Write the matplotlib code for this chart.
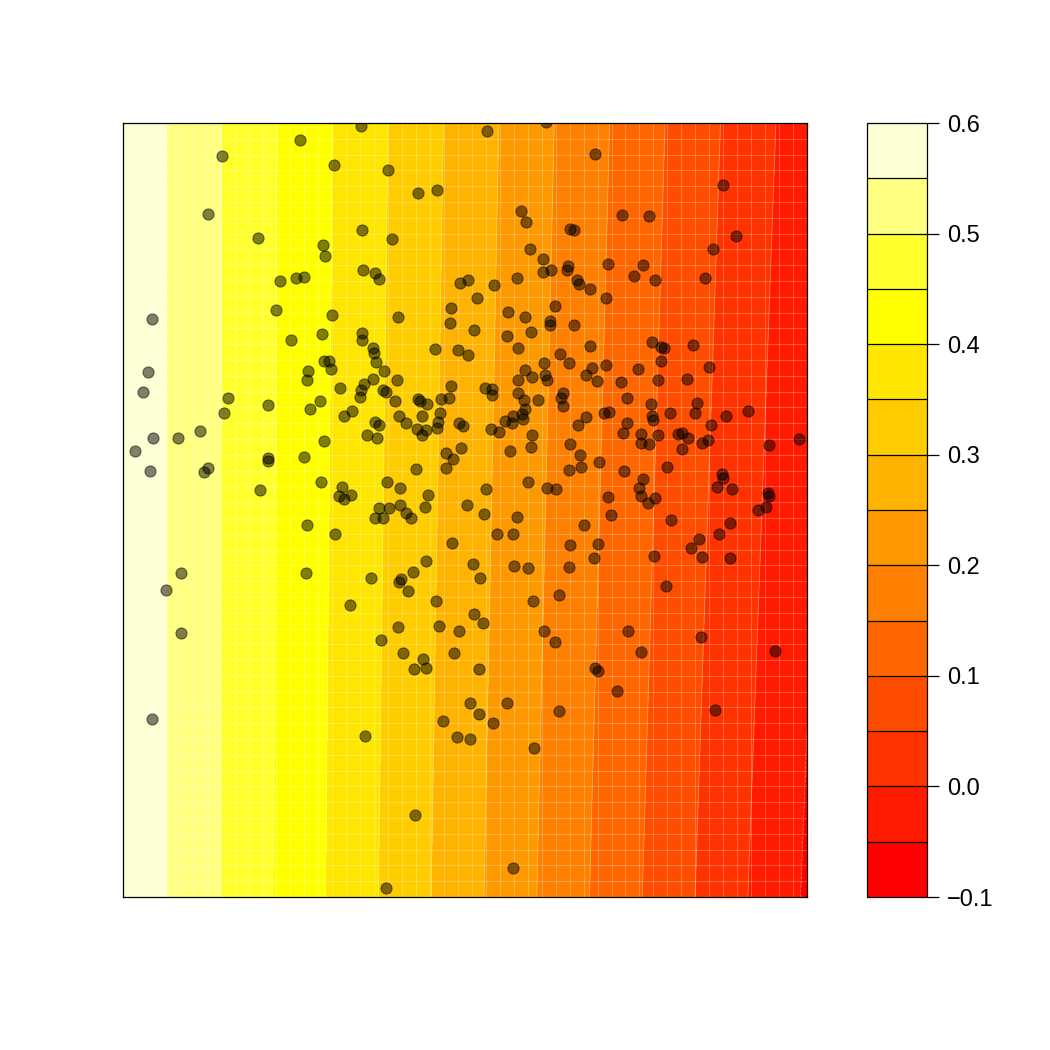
import numpy as np
import matplotlib.pyplot as plt
from matplotlib.colors import ListedColormap, BoundaryNorm

plt.rcParams['font.family'] = ['Liberation Sans', 'DejaVu Sans']

# surface values at the corners (bottom row, top row)
grid_x = [0.0, 6.84]
grid_y = [0.0, 7.74]
field = [[0.592, -0.056],
         [0.589, -0.028]]

levels = np.round(np.arange(-0.1, 0.601, 0.05), 2)
band_colors = ['#FF0000', '#FF1A00', '#FF3300', '#FF4D00', '#FF6600', '#FF8000',
               '#FF9900', '#FFB300', '#FFCC00', '#FFE600', '#FFFF00', '#FFFF2B',
               '#FFFF80', '#FFFFD5']
tick_values = [-0.1, 0.0, 0.1, 0.2, 0.3, 0.4, 0.5, 0.6]
tick_labels = ['\u22120.1', '0.0', '0.1', '0.2', '0.3', '0.4', '0.5', '0.6']

# observation points
pts_x = [0.993, 0.85, 1.35, 1.57, 1.73, 1.527, 0.29, 1.677, 0.253,
         2.377, 1.767, 2.107, 2.653, 2.947, 3.14, 2.387, 2.69, 2.003, 2.023,
         1.81, 2.40, 2.517, 2.56, 3.37, 2.093, 2.747, 3.28, 3.267, 1.987,
         2.39, 2.39, 2.50, 2.51, 2.527, 2.61, 3.123, 3.347, 2.01, 2.057,
         2.08, 1.853, 1.845,
         3.64, 4.23, 4.717, 3.98, 4.03, 4.47, 4.51, 4.993, 4.067, 4.20,
         4.197, 4.283, 4.447, 4.437, 4.543, 4.56, 4.67, 4.853, 5.11, 4.833,
         3.937, 3.71, 3.453, 3.54, 4.323, 3.847, 4.02, 4.27, 4.273, 4.51,
         3.507, 4.08, 3.843, 3.947, 3.453, 4.37, 4.667, 4.46, 4.213, 4.833,
         4.693, 4.627, 4.017, 4.09, 3.953, 4.22, 4.24, 4.737, 4.977, 5.15,
         6.003, 5.263, 6.13, 5.897, 5.197, 5.32, 5.817, 5.293, 5.38, 5.413,
         5.697, 5.38, 5.857, 5.35, 5.64,
         0.197, 1.053, 1.01, 1.45, 0.773, 0.297, 0.55, 0.117, 0.273, 0.85,
         0.81, 1.45, 1.45, 1.367, 0.583, 0.427, 0.577,
         2.41, 2.377, 2.37, 2.50, 2.737, 2.173, 1.973, 1.873, 2.207, 2.29,
         2.603, 2.63, 2.717, 2.947, 2.97, 3.043, 3.177, 3.263, 3.277, 2.76,
         2.83, 2.987, 2.937, 2.987, 3.03, 3.167, 3.15, 3.143, 3.357, 3.40,
         2.517, 2.56, 2.437, 2.54, 2.013, 1.807, 3.227, 3.30, 3.377, 3.227,
         2.927, 1.98, 2.64, 2.767, 2.187, 2.16, 2.213, 2.277, 3.05, 3.02,
         3.437, 2.563, 2.657, 2.767, 2.52, 2.60, 2.833, 2.883, 1.837, 2.12,
         3.29, 3.027, 1.827, 2.483, 2.90, 2.783, 2.763, 2.847, 3.127, 2.267,
         2.75, 3.157, 3.36, 2.583,
         3.62, 3.687, 3.693, 3.947, 4.013, 4.147, 4.02, 3.987, 3.897, 3.82,
         3.887, 3.997, 3.677, 3.757, 4.093, 4.08, 3.873, 4.403, 4.383, 4.403,
         5.04, 4.63, 4.553, 4.813, 4.86, 5.037, 5.00, 4.473, 4.57, 4.583,
         4.46, 4.763, 5.007, 4.047, 4.243, 4.327, 3.63, 3.61, 3.94, 4.853,
         4.88, 4.607, 3.743, 3.903, 4.473, 4.75, 4.707, 3.503, 3.573, 3.91,
         4.047, 4.46, 4.10, 4.36, 3.51, 3.597, 4.21, 4.32, 5.053,
         5.277, 5.29, 5.30, 5.47, 5.743, 5.723, 6.03, 6.25, 5.877, 5.18,
         5.18, 5.263, 5.353, 5.547, 5.59, 5.647, 5.587, 5.787, 5.847, 6.457,
         6.757, 5.437, 5.197, 5.163, 5.177, 5.247, 5.32, 5.995, 6.00, 5.937,
         6.093, 6.447, 6.463, 6.347, 6.43, 5.477, 6.073, 5.963, 5.757, 5.683,
         5.787, 6.07, 5.313, 5.427, 5.78,
         0.293,
         2.803, 2.997, 2.913, 3.03, 3.307, 3.20, 3.337, 2.417, 2.917, 2.63,
         3.563, 3.47, 3.563, 3.703, 3.843, 4.36, 4.107, 3.47, 4.717, 4.747,
         4.943, 3.903,
         5.18, 6.52, 5.923]
pts_y = [7.413, 6.827, 6.587, 6.157, 6.19, 5.87, 5.777, 5.567, 5.247,
         7.713, 7.567, 7.323, 7.27, 7.043, 7.07, 6.673, 6.583, 6.517, 6.413,
         6.203, 6.27, 6.243, 6.18, 6.14, 5.823, 5.803, 5.887, 5.743, 5.633,
         5.643, 5.573, 5.49, 5.44, 5.35, 5.26, 5.48, 5.473, 5.363, 5.363,
         5.28, 5.257, 5.17,
         7.657, 7.75, 7.43, 6.857, 6.75, 6.68, 6.667, 6.817, 6.48, 6.38,
         6.247, 6.273, 6.307, 6.273, 6.167, 6.133, 6.08, 6.333, 6.207, 5.987,
         6.187, 6.12, 6.167, 5.993, 5.91, 5.847, 5.797, 5.757, 5.72, 5.717,
         5.667, 5.653, 5.607, 5.493, 5.423, 5.433, 5.51, 5.343, 5.34, 5.323,
         5.287, 5.22, 5.267, 5.20, 5.17, 5.22, 5.17, 5.16, 5.15, 5.28,
         7.12, 6.813, 6.61, 6.477, 6.323, 6.17, 6.19, 5.553, 5.50, 5.487,
         5.52, 5.363, 5.297, 5.17, 5.18,
         5.053, 4.99, 4.84, 4.917, 4.657, 4.587, 4.587, 4.457, 4.26, 4.287,
         4.253, 4.395, 4.36, 4.07, 3.237, 3.073, 2.637,
         5.127, 5.067, 5.00, 5.18, 5.173, 5.087, 4.963, 4.877, 4.81, 4.863,
         5.067, 5.053, 4.957, 4.977, 4.96, 4.933, 4.977, 4.987, 5.113, 4.81,
         4.737, 4.81, 4.683, 4.62, 4.667, 4.843, 4.753, 4.693, 4.737, 4.715,
         4.753, 4.717, 4.617, 4.587, 4.56, 4.397, 4.437, 4.383, 4.493, 4.287,
         4.277, 4.153, 4.153, 4.093, 4.103, 4.01, 3.977, 4.02, 4.023, 3.903,
         3.92, 3.89, 3.89, 3.923, 3.787, 3.79, 3.843, 3.793, 3.723, 3.627,
         3.543, 3.36, 3.243, 3.193, 3.247, 3.18, 3.147, 3.06, 2.963, 2.923,
         2.703, 2.707, 2.66, 2.57,
         5.093, 5.077, 5.02, 5.043, 4.967, 4.97, 4.877, 4.827, 4.81, 4.76,
         4.743, 4.777, 4.677, 4.653, 4.617, 4.503, 4.46, 5.043, 4.987, 4.91,
         4.987, 4.80, 4.72, 4.837, 4.85, 4.743, 4.64, 4.527, 4.423, 4.303,
         4.267, 4.353, 4.257, 4.153, 4.093, 4.083, 4.08, 3.827, 3.797, 4.003,
         3.817, 3.723, 3.627, 3.627, 3.52, 3.527, 3.393, 3.33, 3.193, 3.313,
         3.293, 3.30, 2.96, 3.017, 2.827, 2.737, 2.66, 2.55, 2.66,
         4.93, 4.81, 4.775, 4.843, 4.943, 4.843, 4.813, 4.86, 4.717, 4.63,
         4.54, 4.527, 4.62, 4.627, 4.64, 4.587, 4.477, 4.54, 4.567, 4.523,
         4.583, 4.303, 4.177, 4.093, 4.01, 3.937, 3.987, 4.235, 4.19, 4.103,
         4.083, 4.043, 4.01, 3.867, 3.90, 3.767, 3.743, 3.633, 3.583, 3.49,
         3.403, 3.393, 3.407, 3.107, 2.60,
         1.777,
         2.437, 2.38, 2.283, 2.293, 2.443, 1.76, 1.603, 1.613, 0.82, 0.093,
         2.28, 1.937, 1.83, 1.743, 1.94, 1.863, 1.493, 1.58, 2.293, 2.263,
         2.063, 0.293,
         2.453, 2.463, 1.873]

cmap = ListedColormap(band_colors)
norm = BoundaryNorm(levels, cmap.N)

fig = plt.figure(figsize=(10.5, 10.5), dpi=100)
ax = fig.add_axes([0.1171, 0.1457, 0.6514, 0.7371])
cax = fig.add_axes([0.8257, 0.1457, 0.0571, 0.7371])

cs = ax.contourf(grid_x, grid_y, field, levels=levels, cmap=cmap, norm=norm)
# faint seams like the polygon tiling of the original
ax.contour(grid_x, grid_y, field, levels=levels, colors='white', linewidths=0.6, alpha=0.35)
ax.vlines(np.linspace(0, 6.84, 50), 0, 7.74, colors='white', linewidth=0.6, alpha=0.3)
ax.hlines(np.linspace(0, 7.74, 50), 0, 6.84, colors='white', linewidth=0.6, alpha=0.3)

ax.scatter(pts_x, pts_y, s=64, facecolor=(0, 0, 0, 0.5), edgecolor=(0, 0, 0, 0.5),
           linewidth=0.8, zorder=3)

ax.set_xlim(0, 6.84)
ax.set_ylim(0, 7.74)
ax.set_xticks([])
ax.set_yticks([])
for sp in ax.spines.values():
    sp.set_linewidth(0.9)
    sp.set_zorder(5)

cb = fig.colorbar(cs, cax=cax)
cb.set_ticks(tick_values)
cb.set_ticklabels(tick_labels)
cb.minorticks_off()
cb.outline.set_linewidth(0.9)
for lev in levels[1:-1]:
    cax.axhline(lev, color='black', linewidth=0.9)
cax.tick_params(length=8.5, width=0.9, labelsize=17, pad=6)
cax.tick_params(which='minor', length=0)

fig.savefig('out.png', dpi=100)
